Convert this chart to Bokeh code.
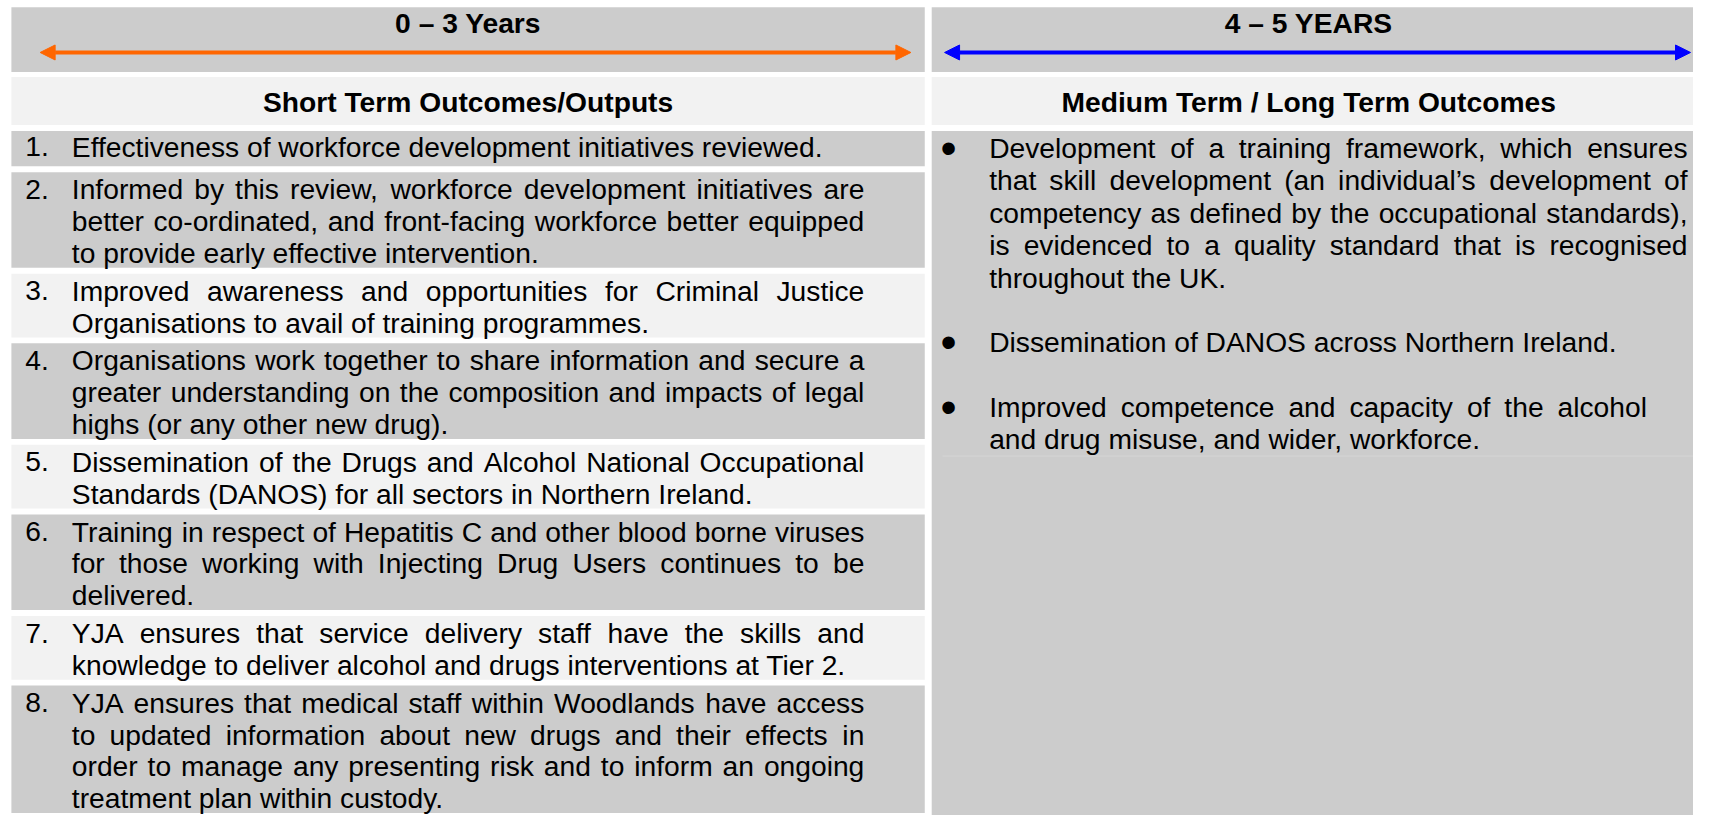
from bokeh.plotting import figure
from bokeh.models import Range1d, Arrow, NormalHead, ColumnDataSource
from bokeh.embed import file_html
from bokeh.resources import INLINE
from bokeh.core.properties import value

# ---------------- content ----------------
period_labels = ["0 \u2013 3 Years", "4 \u2013 5  YEARS"]
period_colors = ["#ff6600", "#0000ff"]
column_headings = ["Short Term Outcomes/Outputs", "Medium Term / Long Term  Outcomes"]

short_term_numbers = ["1.", "2.", "3.", "4.", "5.", "6.", "7.", "8."]
short_term_lines = [
    ["Effectiveness of workforce development initiatives reviewed."],
    ["Informed by this review, workforce development initiatives are",
     "better co-ordinated, and front-facing workforce better equipped",
     "to provide early effective intervention."],
    ["Improved awareness and opportunities for Criminal Justice",
     "Organisations to avail of training programmes."],
    ["Organisations work together to share information and secure a",
     "greater understanding on the composition and impacts of legal",
     "highs (or any other new drug)."],
    ["Dissemination of the Drugs and Alcohol National Occupational",
     "Standards (DANOS) for all sectors in Northern Ireland."],
    ["Training in respect of Hepatitis C and other blood borne viruses",
     "for those working with Injecting Drug Users continues to be",
     "delivered."],
    ["YJA ensures that service delivery staff have the skills and",
     "knowledge to deliver alcohol and drugs interventions at Tier 2."],
    ["YJA ensures that medical staff within Woodlands have access",
     "to updated information about new drugs and their effects in",
     "order to manage any presenting risk and to inform an ongoing",
     "treatment plan within custody."],
]
short_term_shade = ["#cccccc", "#cccccc", "#f2f2f2", "#cccccc",
                    "#f2f2f2", "#cccccc", "#f2f2f2", "#cccccc"]

long_term_lines = [
    ["Development of a training framework, which ensures",
     "that skill development (an individual\u2019s development of",
     "competency as defined by the occupational standards),",
     "is evidenced to a quality standard that is recognised",
     "throughout the UK."],
    ["Dissemination of DANOS across Northern Ireland."],
    ["Improved competence and capacity of the alcohol",
     "and drug misuse, and wider, workforce."],
]

# ---------------- layout (reference pixel units) ----------------
REF_W, REF_H = 1709, 831
W, H = 1693, 815
SX = W / REF_W
FS = 28.5
FONT = "Liberation Sans"
GREY, LIGHT = "#cccccc", "#f2f2f2"
L0, L1 = 11, 933
R0, R1 = 940, 1709
BAND1 = (7, 73)
BAND2 = (78, 127)
BODY_TOP = 133
LH = 32.5
GAP = 6.0
NUM_X, TXT_X, TXT_R = 25, 72, 872
BUL_X, RTXT_X = 957, 998
right_edges = [1703, 1703, 1662]
R_LH = 33.0

# Arial / Liberation Sans advance widths (per 1000 em)
AW = {' ': 278, '!': 278, "'": 191, '(': 333, ')': 333, ',': 278, '-': 333, '.': 278,
      '/': 278, ':': 278, ';': 278, '\u2019': 222, '\u2013': 556}
for c in "0123456789":
    AW[c] = 556
AW.update(dict(zip("ABCDEFGHIJKLMNOPQRSTUVWXYZ",
                   [667, 667, 722, 722, 667, 611, 778, 722, 278, 500, 667, 556, 833,
                    722, 778, 667, 778, 722, 667, 611, 722, 667, 944, 667, 667, 611])))
AW.update(dict(zip("abcdefghijklmnopqrstuvwxyz",
                   [556, 556, 500, 556, 556, 278, 556, 556, 222, 222, 500, 222, 833,
                    556, 556, 556, 556, 333, 500, 278, 556, 500, 722, 500, 500, 500])))


def wwidth(s):
    return sum(AW.get(c, 556) for c in s) * FS / 1000.0


tx, ty, tt = [], [], []


def place_line(line, x0, x1, y, justify):
    if not justify:
        tx.append(x0); ty.append(y); tt.append(line)
        return
    words = line.split(" ")
    widths = [wwidth(w) for w in words]
    gap = (x1 - x0 - sum(widths)) / max(len(words) - 1, 1)
    x = x0
    for w, ww in zip(words, widths):
        tx.append(x); ty.append(y); tt.append(w)
        x += ww + gap


p = figure(width=W, height=H, x_range=Range1d(0, REF_W), y_range=Range1d(REF_H, 0),
           output_backend="svg", toolbar_location=None, min_border=0,
           x_axis_location=None, y_axis_location=None)
p.grid.visible = False
p.outline_line_color = None
p.background_fill_color = "white"
p.border_fill_color = "white"

# header bands
bands = dict(left=[L0, R0, L0, R0], right=[L1, R1, L1, R1],
             top=[BAND1[0], BAND1[0], BAND2[0], BAND2[0]],
             bottom=[BAND1[1], BAND1[1], BAND2[1], BAND2[1]],
             color=[GREY, GREY, LIGHT, LIGHT])
p.quad(left="left", right="right", top="top", bottom="bottom", color="color",
       source=ColumnDataSource(bands), line_color=None)

# left rows
ql, qr, qt, qb, qc = [], [], [], [], []
y = BODY_TOP
for i, lines in enumerate(short_term_lines):
    n = len(lines)
    h = 36 if i == 0 else n * LH
    ql.append(L0); qr.append(L1); qt.append(y); qb.append(y + h); qc.append(short_term_shade[i])
    cy = y + (16 if i == 0 else 17.5)
    tx.append(NUM_X); ty.append(cy); tt.append(short_term_numbers[i])
    for k, line in enumerate(lines):
        place_line(line, TXT_X, TXT_R, cy + k * LH, k < n - 1)
    y = y + h + GAP
# right column box
ql.append(R0); qr.append(R1); qt.append(BODY_TOP); qb.append(900); qc.append(GREY)
p.quad(left=ql, right=qr, top=qt, bottom=qb, color=qc, line_color=None)

# right bullets
bx, by = [], []
idx = 0
for b, lines in enumerate(long_term_lines):
    n = len(lines)
    for k, line in enumerate(lines):
        cy = BODY_TOP + 17.5 + (idx + k) * R_LH
        if k == 0:
            bx.append(BUL_X); by.append(cy)
        place_line(line, RTXT_X, right_edges[b], cy, k < n - 1)
    last_y = BODY_TOP + 17.5 + (idx + n - 1) * R_LH
    idx += n + 1

p.segment(x0=[951], y0=[last_y + 17], x1=[R1], y1=[last_y + 17], line_color="#d6d6d6", line_width=1)

fs_px = f"{FS * SX:.2f}px"
p.text(x=tx, y=ty, text=tt, text_font=value(FONT), text_font_size=fs_px,
       text_baseline="middle", text_align="left", text_color="black")
p.text(x=bx, y=by, text=["\u2022"] * len(bx), text_font=value(FONT), text_font_size="46px",
       text_baseline="middle", text_align="center", text_color="black")

# bold headings
hx = [(L0 + L1) / 2, (R0 + R1) / 2, (L0 + L1) / 2, (R0 + R1) / 2]
hy = [23, 23, 104, 104]
ht = period_labels + column_headings
p.text(x=hx, y=hy, text=ht, text_font=value(FONT), text_font_size=fs_px,
       text_font_style="bold", text_baseline="middle", text_align="center", text_color="black")

# period arrows
arrows = [(40, 919), (953, 1706)]
for (xa, xb), c in zip(arrows, period_colors):
    p.add_layout(Arrow(start=NormalHead(size=15, fill_color=c, line_color=c),
                       end=NormalHead(size=15, fill_color=c, line_color=c),
                       x_start=xa, y_start=53, x_end=xb, y_end=53,
                       line_color=c, line_width=4))

open("out.html", "w").write(file_html(p, INLINE))
